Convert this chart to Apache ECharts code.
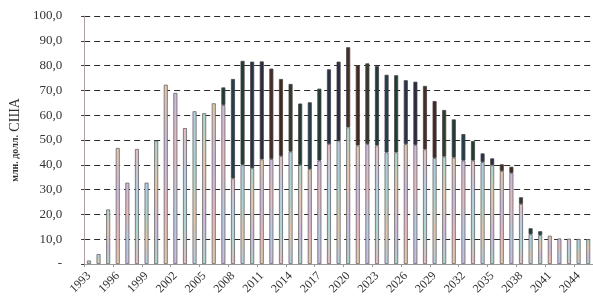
<!DOCTYPE html>
<html>
<head>
<meta charset="utf-8">
<script src="https://cdn.jsdelivr.net/npm/echarts@6/dist/echarts.min.js"></script>
<style>
  html, body { margin: 0; padding: 0; background: #fff; }
  #main { width: 593px; height: 304px; }
</style>
</head>
<body>
<div id="main"></div>
<script>
// годы
var years = ['1993','1994','1995','1996','1997','1998','1999','2000','2001','2002',
  '2003','2004','2005','2006','2007','2008','2009','2010','2011','2012',
  '2013','2014','2015','2016','2017','2018','2019','2020','2021','2022',
  '2023','2024','2025','2026','2027','2028','2029','2030','2031','2032',
  '2033','2034','2035','2036','2037','2038','2039','2040','2041','2042',
  '2043','2044','2045'];

// нижняя (светлая) часть столбца
var lowerPart = [1.4, 4.0, 22.0, 46.8, 32.8, 46.4, 32.8, 49.7, 72.3, 69.0,
  54.8, 61.6, 60.8, 64.8, 64.1, 34.5, 40.0, 38.6, 42.2, 42.3,
  43.5, 45.3, 39.9, 38.2, 41.7, 48.3, 49.7, 55.1, 47.8, 48.3,
  47.8, 45.0, 45.0, 48.3, 48.0, 46.2, 42.7, 43.3, 42.9, 41.7,
  41.7, 41.1, 39.8, 37.5, 36.7, 24.2, 12.0, 11.6, 11.4, 10.3,
  10.2, 10.1, 10.0];

// верхняя (тёмная) часть столбца
var upperPart = [0, 0, 0, 0, 0, 0, 0, 0, 0, 0,
  0, 0, 0, 0, 7.1, 40.1, 41.9, 43.0, 39.5, 36.5,
  31.1, 27.3, 24.8, 27.0, 29.0, 30.2, 31.9, 32.3, 32.4, 32.6,
  32.0, 31.3, 31.1, 25.8, 25.5, 25.6, 23.0, 18.8, 15.4, 10.7,
  7.9, 3.5, 2.8, 2.7, 2.5, 2.7, 2.4, 1.6, 0, 0,
  0, 0, 0];

var yTicks = [0, 10, 20, 30, 40, 50, 60, 70, 80, 90, 100];

// цвета
var lightColors = ['#e9b8c0', '#b5cbe8', '#a9d6cf', '#e6c6a8', '#cdb8de'];
var darkColors = ['#1f3d33', '#26324d', '#2c2a44', '#4a2b26', '#47261f', '#333a2a', '#1e3b36', '#213f4c'];

var myChart = echarts.init(document.getElementById('main'));

var lowData = lowerPart.map(function (v, i) {
  var a = lightColors[i % 5], b = lightColors[(i + 1) % 5], c = lightColors[(i + 2) % 5];
  return {
    value: v,
    itemStyle: {
      color: new echarts.graphic.LinearGradient(0, 0, 0, 1, [
        { offset: 0, color: a }, { offset: 0.35, color: b },
        { offset: 0.7, color: c }, { offset: 1, color: a }
      ])
    }
  };
});
// нулевые значения не рисуем
var topData = upperPart.map(function (v, i) {
  if (!v) return '-';
  return { value: v, itemStyle: { color: darkColors[i % darkColors.length] } };
});

var option = {
  animation: false,
  backgroundColor: '#fff',
  grid: { left: 74, top: 16, bottom: 40, width: 520 },
  xAxis: {
    type: 'category',
    data: years,
    axisLine: { lineStyle: { color: '#9a9a9a', width: 1 } },
    axisTick: { show: true, length: 3, lineStyle: { color: '#9a9a9a' } },
    axisLabel: {
      interval: 2, rotate: 45, margin: 10,
      fontFamily: 'Liberation Serif', fontSize: 12, color: '#333'
    }
  },
  yAxis: {
    type: 'value',
    min: 0, max: 100, interval: 10,
    name: '{a|млн. долл.} {b|США}',
    nameLocation: 'middle',
    nameRotate: 90,
    nameGap: 56,
    nameTextStyle: {
      rich: {
        a: { fontFamily: 'Liberation Serif', fontSize: 10, fontWeight: 'bold', color: '#333' },
        b: { fontFamily: 'Liberation Serif', fontSize: 14, color: '#333' }
      }
    },
    axisLine: { show: true, lineStyle: { color: '#b0a0a0', width: 1 } },
    axisTick: { show: true, length: 3, lineStyle: { color: '#333' } },
    axisLabel: {
      margin: 22,
      fontFamily: 'Liberation Serif', fontSize: 13, color: '#333',
      formatter: function (v) {
        if (yTicks.indexOf(v) < 0) return '';
        return v === 0 ? '-' : v.toFixed(1).replace('.', ',');
      }
    },
    splitLine: { lineStyle: { color: '#2a2a2a', type: [6, 4], width: 1 } }
  },
  series: [
    {
      name: 'lower', type: 'bar', stack: 'total', barWidth: 4,
      itemStyle: { borderColor: '#666', borderWidth: 0.8 },
      data: lowData
    },
    {
      name: 'upper', type: 'bar', stack: 'total', barWidth: 4,
      itemStyle: { borderColor: '#444', borderWidth: 0.8 },
      data: topData
    }
  ]
};
myChart.setOption(option);
</script>
</body>
</html>
